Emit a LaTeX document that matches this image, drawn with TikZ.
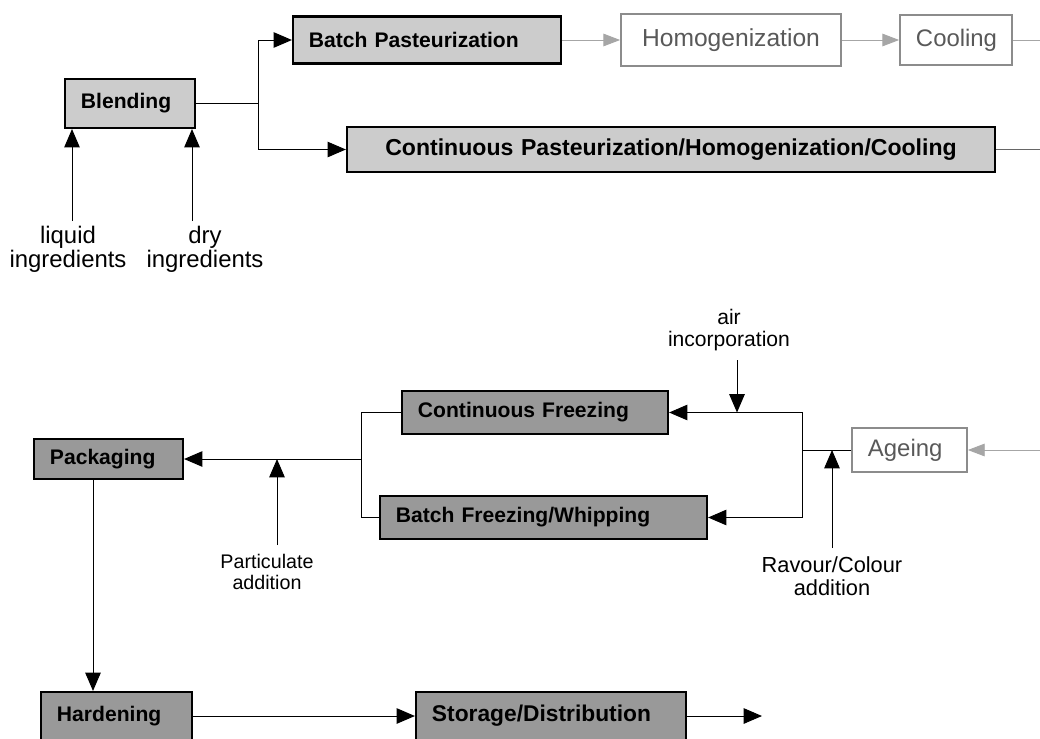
\documentclass[tikz,border=0pt]{standalone}
\usepackage{fontspec}
\setmainfont{Liberation Sans}
\usetikzlibrary{arrows.meta}
\definecolor{lite}{gray}{0.80}
\definecolor{dark}{gray}{0.60}
\definecolor{faint}{gray}{0.55}

\begin{document}
\begin{tikzpicture}[x=0.025cm,y=-0.025cm]
  \tikzstyle{litebox}=[draw,line width=1.5pt,fill=lite,inner xsep=0.4cm,align=left,
    inner ysep=0pt,font=\fontsize{15}{17}\selectfont\bfseries]
  \tikzstyle{darkbox}=[litebox,fill=dark]
  \tikzstyle{greybox}=[draw=faint,line width=1.2pt,fill=white,text=black!65,align=left,
    inner xsep=0.4cm,inner ysep=0pt,font=\fontsize{17}{17}\selectfont]
  \tikzstyle{flow}=[line width=0.7pt,-{Triangle[length=13pt,width=11pt]}]
  \tikzstyle{greyflow}=[line width=0.7pt,draw=black!35,
    -{Triangle[length=12pt,width=9pt,fill=black!35]}]
  \tikzstyle{feed}=[font=\fontsize{17}{17}\selectfont,align=center,inner sep=0pt]
  \tikzstyle{note}=[font=\fontsize{14}{15}\selectfont,align=center,inner sep=0pt]

  \clip (0,0) rectangle (1040,738);

  % mix preparation
  \node [litebox,text width=2.45cm,minimum height=1.225cm] (blend) at (130,103.5) {Blending};
  \node [litebox,text width=5.9cm,minimum height=1.175cm] (batchpast) at (427,40) {Batch Pasteurization};
  \node [greybox,text width=4.7cm,align=center,minimum height=1.3cm,
    font=\fontsize{17.5}{17}\selectfont] (homog) at (731,40) {Homogenization};
  \node [greybox,text width=2.0cm,align=center,minimum height=1.25cm] (cool) at (956,40) {Cooling};
  \node [litebox,text width=15.4cm,align=center,minimum height=1.125cm,
    font=\fontsize{16.4}{17}\selectfont\bfseries] (contpast) at (671,149.5)
    {Continuous Pasteurization/Homogenization/Cooling};

  \node [feed] (liquid) at (68,249) {liquid\\ingredients};
  \node [feed] (dry) at (205,249) {dry\\ingredients};

  \coordinate (split) at (258,103.5);
  \coordinate (liqin) at (72,221);
  \coordinate (dryin) at (192,221);
  \coordinate (coolout) at (1040,40);
  \coordinate (pastout) at (1040,149.5);

  \draw [line width=0.7pt] (blend) -- (split);
  \draw [flow] (split) |- (batchpast);
  \draw [flow] (split) |- (contpast);
  \draw [flow] (liqin) -- (liqin |- blend.south);
  \draw [flow] (dryin) -- (dryin |- blend.south);
  \draw [greyflow] (batchpast) -- (homog);
  \draw [greyflow] (homog) -- (cool);
  \draw [line width=0.7pt,black!35] (cool) -- (coolout);
  \draw [line width=0.7pt,black!60] (contpast) -- (pastout);

  % freezing and after
  \node [greybox,text width=2.075cm,minimum height=1.1cm] (ageing) at (909.5,450) {Ageing};
  \node [darkbox,text width=5.85cm,minimum height=1.075cm] (contfreeze) at (535,412.5) {Continuous Freezing};
  \node [darkbox,text width=7.375cm,minimum height=1.075cm] (batchfreeze) at (543.5,517.5) {Batch Freezing/Whipping};
  \node [darkbox,text width=2.925cm,minimum height=1.0cm] (pack) at (108.5,459) {Packaging};
  \node [darkbox,text width=2.975cm,minimum height=1.2cm] (harden) at (116.5,716) {Hardening};
  \node [darkbox,text width=5.95cm,minimum height=1.2cm,
    font=\fontsize{16.2}{17}\selectfont\bfseries] (store) at (551,716) {Storage/Distribution};

  \node [note,font=\fontsize{15}{16}\selectfont] (air) at (729,330) {air\\incorporation};
  \node [note,font=\fontsize{15.5}{16}\selectfont] (flavour) at (832,576) {Ravour/Colour\\addition};
  \node [note] (partic) at (267,572) {Particulate\\addition};

  \coordinate (ageingin) at (1040,450);
  \coordinate (rsplit) at (802,450);
  \coordinate (lsplit) at (361,459);
  \coordinate (airin) at (737,360);
  \coordinate (flavin) at (832,548);
  \coordinate (partin) at (277,545);
  \coordinate (packdrop) at (93,479);
  \coordinate (storeout) at (762,716);

  \draw [greyflow] (ageingin) -- (ageing);
  \draw [line width=0.7pt] (ageing) -- (rsplit);
  \draw [flow] (rsplit) |- (contfreeze);
  \draw [flow] (rsplit) |- (batchfreeze);
  \draw [flow] (airin) -- (airin |- contfreeze.east);
  \draw [flow] (flavin) -- (flavin |- rsplit);
  \draw [line width=0.7pt] (contfreeze) -| (lsplit);
  \draw [line width=0.7pt] (batchfreeze) -| (lsplit);
  \draw [flow] (lsplit) -- (pack);
  \draw [flow] (partin) -- (partin |- lsplit);
  \draw [flow] (packdrop) -- (packdrop |- harden.north);
  \draw [flow] (harden) -- (store);
  \draw [flow] (store) -- (storeout);
\end{tikzpicture}
\end{document}
